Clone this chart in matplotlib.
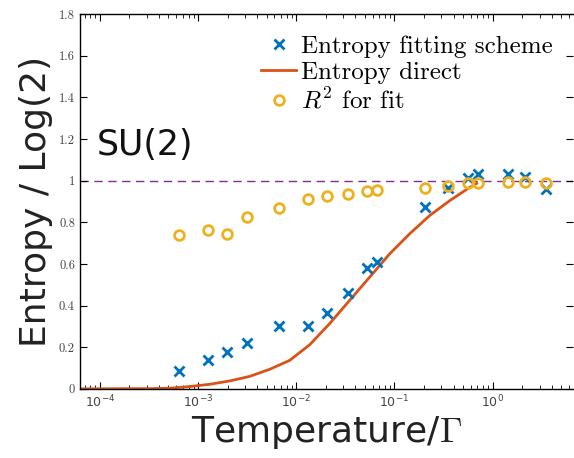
import numpy as np
import matplotlib
matplotlib.use("Agg")
import matplotlib.pyplot as plt

plt.rcParams['mathtext.fontset'] = 'cm'
plt.rcParams['axes.formatter.use_mathtext'] = True

# data
T_fit = [6.37e-4, 1.256e-3, 1.96e-3, 3.13e-3, 6.64e-3, 0.01309, 0.0204, 0.0334, 0.0522,
         0.066, 0.203, 0.348, 0.557, 0.703, 1.42, 2.12, 3.46]
S_fit = [0.086, 0.139, 0.177, 0.22, 0.30, 0.30, 0.364, 0.46, 0.58,
         0.61, 0.876, 0.967, 1.014, 1.03, 1.03, 1.02, 0.96]
R2_fit = [0.737, 0.765, 0.746, 0.828, 0.87, 0.91, 0.928, 0.938, 0.952,
          0.957, 0.967, 0.976, 0.99, 0.99, 0.995, 0.995, 0.99]

logT_direct = [-4.204, -3.847, -3.491, -3.288, -3.084, -2.880, -2.677, -2.473, -2.270,
               -2.066, -1.863, -1.659, -1.455, -1.252, -1.048, -0.845, -0.641,
               -0.438, -0.234, -0.163]
S_direct = [0.0, 0.0005, 0.001, 0.003, 0.011, 0.022, 0.038, 0.06, 0.094,
            0.137, 0.212, 0.314, 0.426, 0.537, 0.649, 0.745, 0.833,
            0.904, 0.968, 0.987]

blue = '#0072BD'
orange = '#D95319'
yellow = '#EDB120'
purple = '#7E2F8E'

fig = plt.figure(figsize=(5.74, 4.58), dpi=100)
ax = fig.add_axes([0.139, 0.151, 0.859, 0.818])

ax.axhline(1, color=purple, ls=(0, (6, 4)), lw=1.0, zorder=1)
ax.plot(T_fit, S_fit, ls='none', marker='x', ms=7, mew=2, color=blue,
        label='Entropy fitting scheme', zorder=3)
ax.plot(10**np.array(logT_direct), S_direct, color=orange, lw=2,
        label='Entropy direct', zorder=2)
ax.plot(T_fit, R2_fit, ls='none', marker='o', ms=7, mew=2, mfc='none',
        mec=yellow, label='$R^2$ for fit', zorder=4)

ax.set_xscale('log')
ax.set_xlim(10**-4.204, 10**0.816)
ax.set_ylim(0, 1.8)
ax.set_yticks(np.arange(0, 1.81, 0.2))
ax.set_yticklabels(['0', '0.2', '0.4', '0.6', '0.8', '1', '1.2', '1.4', '1.6', '1.8'],
                   family='cmr10', fontsize=9, color='#444444')
ax.tick_params(which='both', direction='in', top=True, right=True,
               labelsize=9, labelcolor='#444444')
ax.tick_params(which='major', length=5)
ax.tick_params(which='minor', length=3)
for s in ax.spines.values():
    s.set_linewidth(1.0)
ax.spines['right'].set_visible(False)

ax.set_xlabel(r'Temperature/$\Gamma$', fontsize=26, color='#222222', labelpad=3)
ax.set_ylabel('Entropy / Log(2)', fontsize=26, color='#222222', labelpad=4)
ax.text(0.035, 0.625, 'SU(2)', transform=ax.transAxes, fontsize=25, color='#111111')

leg = ax.legend(loc='upper right', frameon=False, prop={'family': 'cmr10', 'size': 18},
                handlelength=1.4, handletextpad=0.2, labelspacing=0.15,
                borderaxespad=0.3, bbox_to_anchor=(0.995, 0.99))

fig.savefig('out.png', dpi=100)
